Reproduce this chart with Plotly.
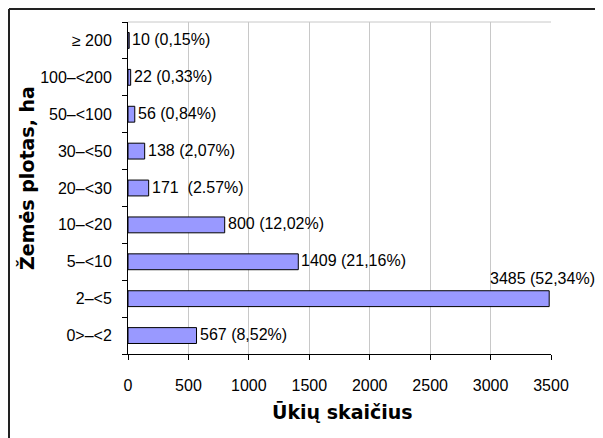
import plotly.graph_objects as go

categories = ["0>–<2", "2–<5", "5–<10", "10–<20", "20–<30", "30–<50", "50–<100", "100–<200", "≥ 200"]
values = [567, 3485, 1409, 800, 171, 138, 56, 22, 10]
labels = ["567 (8,52%)", "3485 (52,34%)", "1409 (21,16%)", "800 (12,02%)", "171  (2.57%)",
          "138 (2,07%)", "56 (0,84%)", "22 (0,33%)", "10 (0,15%)"]
x_ticks = [0, 500, 1000, 1500, 2000, 2500, 3000, 3500]

# page has an 8px body margin; plot area wanted at window px 128..551 x 22..354
OFF = 8
W, H = 603, 438
PL, PR, PT, PB = 128, 551, 22, 354
L, T = PL - OFF, PT - OFF
R, B = W - L - (PR - PL), H - T - (PB - PT)


def px(wx):
    return (wx - PL) / (PR - PL)


def py(wy):
    return (PB - wy) / (PB - PT)


fig = go.Figure(go.Bar(
    x=values, y=categories, orientation="h",
    marker=dict(color="#9999FF", line=dict(color="black", width=1)),
    hoverinfo="skip", cliponaxis=False,
))

font = "Arial, Liberation Sans, sans-serif"
tfont = "DejaVu Sans, Verdana, sans-serif"
for v, c, t in zip(values, categories, labels):
    big = v == max(values)
    fig.add_annotation(x=v, y=c, text=t, showarrow=False, xanchor="left",
                       xshift=-61 if big else 1, yshift=20 if big else 1,
                       font=dict(family=font, size=16, color="black"))

fig.add_annotation(xref="paper", yref="paper", x=px(27), y=py(178), text="<b>Žemės plotas, ha</b>",
                   textangle=-90, showarrow=False, xanchor="center", yanchor="middle",
                   font=dict(family=tfont, size=19, color="black"))
fig.add_annotation(xref="paper", yref="paper", x=px(342), y=py(412), text="<b>Ūkių skaičius</b>",
                   showarrow=False, xanchor="center", yanchor="middle",
                   font=dict(family=tfont, size=19, color="black"))

fig.update_layout(
    width=W, height=H, margin=dict(l=L, r=R, t=T, b=B, autoexpand=False),
    paper_bgcolor="white", plot_bgcolor="white", showlegend=False,
    bargap=0.57, font=dict(family=font, size=16, color="black"),
    xaxis=dict(range=[0, 3500], tickvals=x_ticks, showgrid=True, gridcolor="#C8C8C8",
               gridwidth=1, zeroline=False, showline=True, linecolor="black", linewidth=1,
               ticks="outside", ticklen=5, tickcolor="black", ticklabelstandoff=12,
               automargin=False),
    yaxis=dict(type="category", showgrid=False, zeroline=False, showline=True,
               linecolor="black", linewidth=1, ticks="outside", ticklen=5, tickcolor="black",
               tickson="boundaries", ticklabelstandoff=12, automargin=False),
    shapes=[
        dict(type="line", xref="x", yref="paper", x0=0, x1=3500, y0=1, y1=1,
             line=dict(color="#C8C8C8", width=1)),
        dict(type="line", xref="paper", yref="paper", x0=px(9), x1=px(640), y0=py(9), y1=py(9),
             line=dict(color="#222222", width=2)),
        dict(type="line", xref="paper", yref="paper", x0=px(9), x1=px(9), y0=py(9), y1=py(470),
             line=dict(color="#222222", width=2)),
    ],
)
fig.write_html("out.html")
